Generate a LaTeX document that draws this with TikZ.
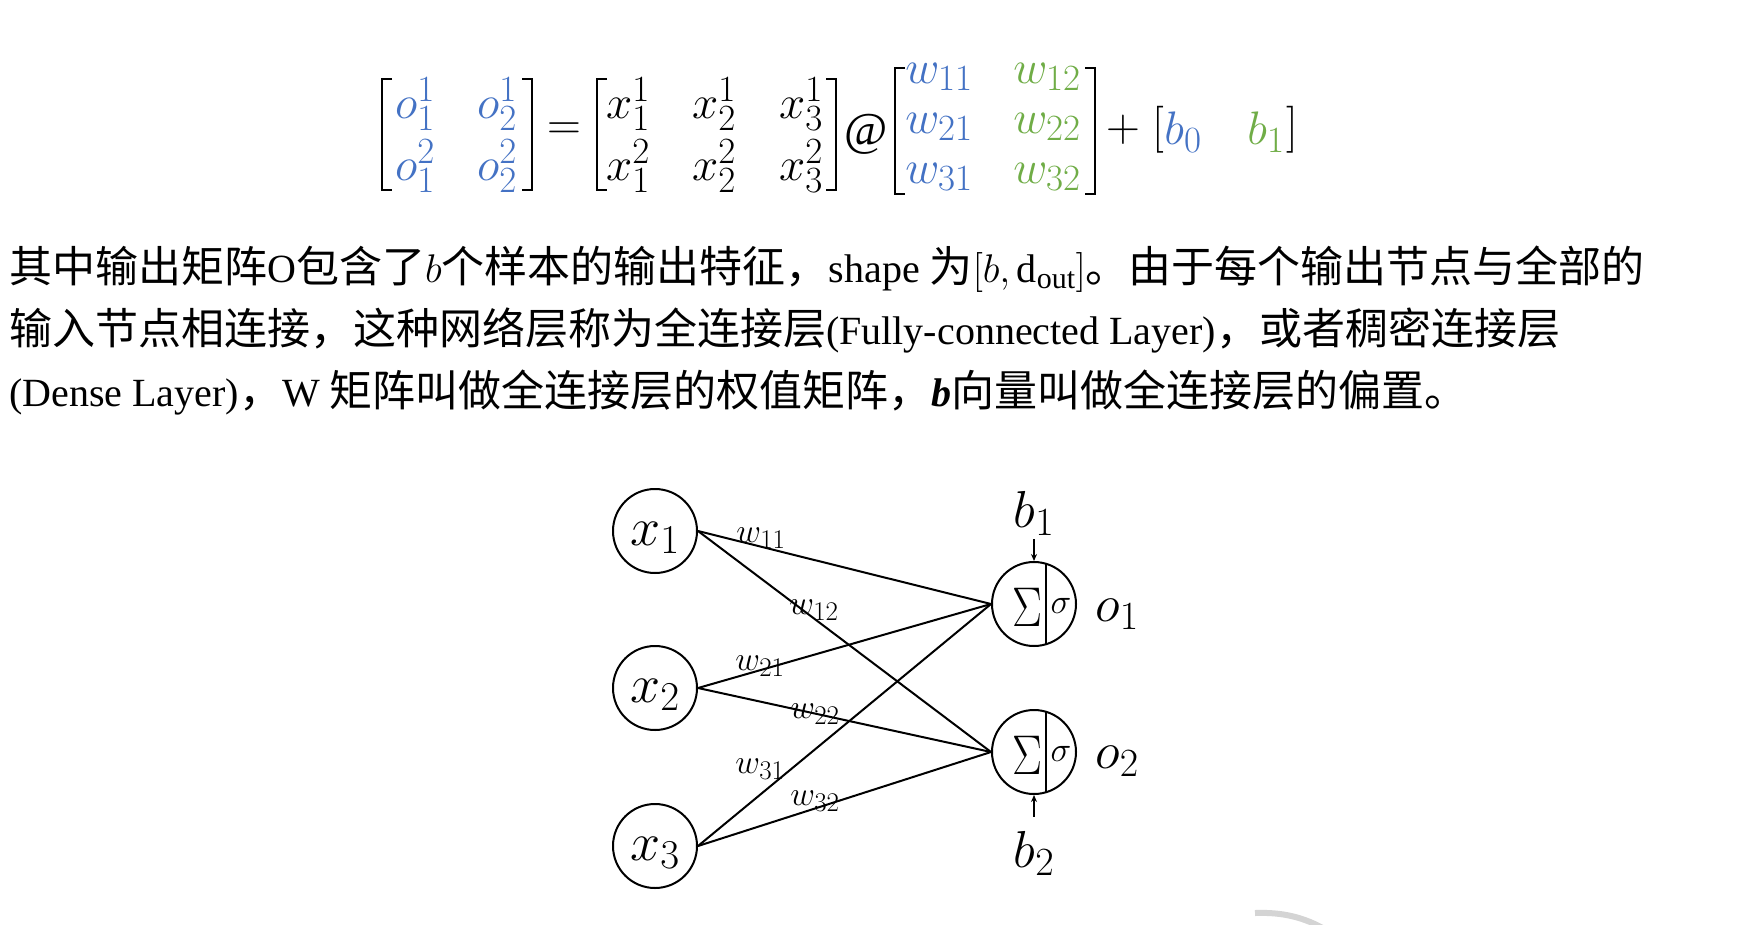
\RequirePackage{fix-cm}
\documentclass[tikz,border=0pt]{standalone}
\usepackage{graphicx}
\usepackage{fontspec}
\setmainfont{Liberation Serif}
\newfontfamily\cjk{Noto Sans CJK SC}[Scale=1.075]
\usetikzlibrary{calc,arrows.meta}
\definecolor{wblue}{HTML}{4472C4}
\definecolor{wgreen}{HTML}{70AD47}
\DeclareMathSizes{47}{47}{37}{28}
\DeclareMathSizes{54}{54}{41}{30}
\DeclareMathSizes{52}{52}{40}{30}
\DeclareMathSizes{34}{34}{27}{20}
\DeclareMathSizes{40}{40}{30}{22}
\DeclareMathSizes{35}{35}{26}{20}
\DeclareMathSizes{56}{56}{42}{32}
\newcommand{\inlab}[1]{\raisebox{-7pt}[\height][\depth]{$#1$}\hspace{8pt}}
\begin{document}
\begin{tikzpicture}[x=1pt,y=-1pt,
  eq/.style={inner sep=0pt, font=\fontsize{47}{52}\selectfont},
  brk/.style={line width=2.6pt},
  neuron/.style={circle, draw, line width=2pt, minimum size=84pt, inner sep=0pt, font=\fontsize{54}{58}\selectfont},
  conn/.style={line width=2pt},
  wlab/.style={inner sep=0pt, font=\fontsize{34}{38}\selectfont},
  para/.style={anchor=base west, inner sep=0pt, font=\fontsize{40}{48}\selectfont},
  biasarrow/.style={line width=1.6pt, -{Stealth[length=7pt,width=6pt]}},
  biglab/.style={inner sep=0pt, font=\fontsize{52}{56}\selectfont}]
\fill[white] (0,0) rectangle (1737,924);
\useasboundingbox (0,0) rectangle (1737,924);

% ---------- equation ----------
% O matrix
\draw[brk] (392,79) -| (382,190) -- (392,190);
\draw[brk] (522,79) -| (532,190) -- (522,190);
\node[eq, text=wblue] (o11) at (415,104) {$o_1^1$};
\node[eq, text=wblue] (o12) at (497,104) {$o_2^1$};
\node[eq, text=wblue] (o21) at (415,166) {$o_1^2$};
\node[eq, text=wblue] (o22) at (497,166) {$o_2^2$};
\node[eq] (eqs) at (564,131) {$=$};
% X matrix
\draw[brk] (607,79) -| (597,190) -- (607,190);
\draw[brk] (826,79) -| (836,190) -- (826,190);
\node[eq] (x11) at (628,104) {$x_1^1$};
\node[eq] (x12) at (714,104) {$x_2^1$};
\node[eq] (x13) at (801,104) {$x_3^1$};
\node[eq] (x21) at (628,166) {$x_1^2$};
\node[eq] (x22) at (714,166) {$x_2^2$};
\node[eq] (x23) at (801,166) {$x_3^2$};
\node[eq] (at) at (866,134) {@};
% W matrix
\draw[brk] (905,68) -| (895,194) -- (905,194);
\draw[brk] (1085,68) -| (1095,194) -- (1085,194);
\node[eq, text=wblue] (w11) at (939,77) {$w_{11}$};
\node[eq, text=wgreen] (w12) at (1047,77) {$w_{12}$};
\node[eq, text=wblue] (w21) at (939,127) {$w_{21}$};
\node[eq, text=wgreen] (w22) at (1047,127) {$w_{22}$};
\node[eq, text=wblue] (w31) at (939,177) {$w_{31}$};
\node[eq, text=wgreen] (w32) at (1047,177) {$w_{32}$};
\node[eq] (plus) at (1123,130) {$+$};
\node[eq] (lb) at (1158,130) {$[$};
\node[eq, text=wblue] (bb0) at (1183,132) {$b_0$};
\node[eq, text=wgreen] (bb1) at (1266,132) {$b_1$};
\node[eq] (rb) at (1292,130) {$]$};

% ---------- paragraph ----------
\node[para] (l1) at (9,282) {{\cjk 其中输出矩阵}O{\cjk 包含了}$b${\cjk 个样本的输出特征，}shape {\cjk 为}$[b,\mathrm{d}_{\mathrm{out}}]${\cjk 。由于每个输出节点与全部的}};
\node[para] (l2) at (9,344) {{\cjk 输入节点相连接，这种网络层称为全连接层}(Fully-connected Layer){\cjk ，或者稠密连接层}};
\node[para] (l3) at (9,406) {(Dense Layer){\cjk ，}W {\cjk 矩阵叫做全连接层的权值矩阵，}\textbf{\textit{b}}{\cjk 向量叫做全连接层的偏置。}};

% ---------- network ----------
\node[neuron] (x1) at (655,531) {\inlab{x_1}};
\node[neuron] (x2) at (655,688) {\inlab{x_2}};
\node[neuron] (x3) at (655,846) {\inlab{x_3}};
\node[neuron] (n1) at (1034,604) {};
\node[neuron] (n2) at (1034,752) {};

\draw[conn] (x1.east) -- (n1.west);
\draw[conn] (x1.east) -- (n2.west);
\draw[conn] (x2.east) -- (n1.west);
\draw[conn] (x2.east) -- (n2.west);
\draw[conn] (x3.east) -- (n1.west);
\draw[conn] (x3.east) -- (n2.west);

\node[inner sep=0pt, font=\fontsize{56}{60}\selectfont] (s1) at (1027,607) {\scalebox{0.8}[1]{$\Sigma$}};
\node[inner sep=0pt, font=\fontsize{35}{40}\selectfont] (g1) at (1061,606) {$\sigma$};
\draw[conn] ($(n1.center)+(12,-40.3)$) -- ($(n1.center)+(12,40.3)$);
\node[inner sep=0pt, font=\fontsize{56}{60}\selectfont] (s2) at (1027,755) {\scalebox{0.8}[1]{$\Sigma$}};
\node[inner sep=0pt, font=\fontsize{35}{40}\selectfont] (g2) at (1061,754) {$\sigma$};
\draw[conn] ($(n2.center)+(12,-40.3)$) -- ($(n2.center)+(12,40.3)$);

\node[wlab] (lw11) at (761,538) {$w_{11}$};
\node[wlab] (lw12) at (814,610) {$w_{12}$};
\node[wlab] (lw21) at (760,666) {$w_{21}$};
\node[wlab] (lw22) at (815,714) {$w_{22}$};
\node[wlab] (lw31) at (760,769) {$w_{31}$};
\node[wlab] (lw32) at (815,801) {$w_{32}$};

\node[biglab, inner sep=3pt] (b1) at (1034,513) {$b_1$};
\node[biglab, inner sep=3pt] (b2) at (1034,853) {$b_2$};
\draw[biasarrow, shorten <=1pt] (b1.south) -- (n1.north);
\draw[biasarrow, shorten <=11pt] (b2.north) -- (n2.south);
\node[biglab] (ol1) at (1117,614) {$o_1$};
\node[biglab] (ol2) at (1117,761) {$o_2$};

% ---------- grey fragment ----------
\begin{scope}
\clip (0,0) rectangle (1737,924);
\draw[line width=6pt, color=black!17] (1255,913) .. controls (1282,912) and (1304,917) .. (1326,930);
\end{scope}
\end{tikzpicture}
\end{document}
